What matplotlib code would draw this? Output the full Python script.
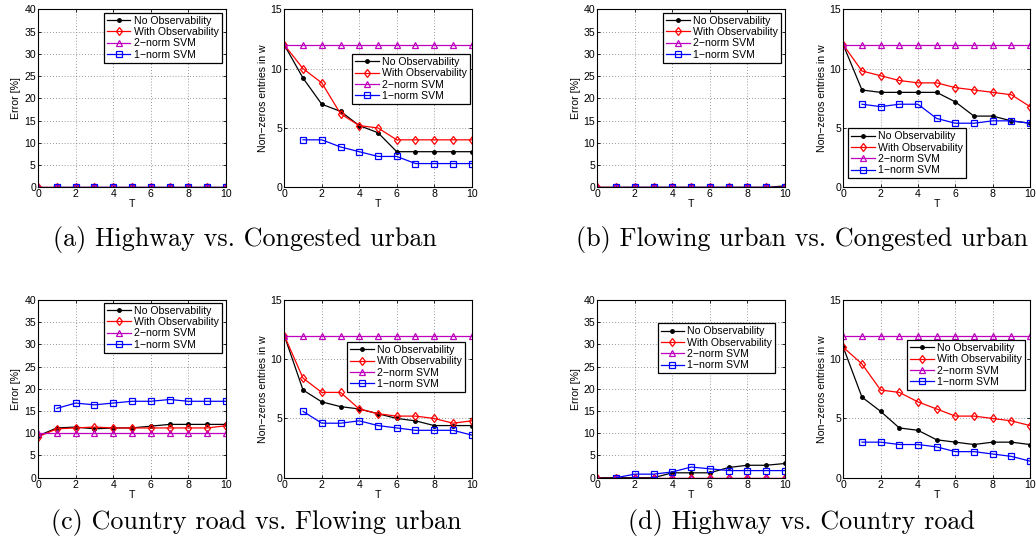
import matplotlib
matplotlib.use("Agg")
import matplotlib.pyplot as plt

# Horizon T
T = [0, 1, 2, 3, 4, 5, 6, 7, 8, 9, 10]
T_l1 = [1, 2, 3, 4, 5, 6, 7, 8, 9, 10]

series_labels = ["No Observability", "With Observability", "2\u2212norm SVM", "1\u2212norm SVM"]

# (a) Highway vs. Congested urban
a_err_noobs = [0, 0, 0, 0, 0, 0, 0, 0, 0, 0, 0]
a_err_obs = [0, 0, 0, 0, 0, 0, 0, 0, 0, 0, 0]
a_err_svm2 = [0, 0, 0, 0, 0, 0, 0, 0, 0, 0, 0]
a_err_svm1 = [0, 0, 0, 0, 0, 0, 0, 0, 0, 0]
a_nz_noobs = [12, 9.2, 7.0, 6.4, 5.2, 4.6, 3, 3, 3, 3, 3]
a_nz_obs = [12, 10.0, 8.8, 6.2, 5.2, 5.0, 4, 4, 4, 4, 4]
a_nz_svm2 = [12, 12, 12, 12, 12, 12, 12, 12, 12, 12, 12]
a_nz_svm1 = [4.0, 4.0, 3.4, 3.0, 2.6, 2.6, 2.0, 2.0, 2.0, 2.0]

# (b) Flowing urban vs. Congested urban
b_err_noobs = [0, 0, 0, 0, 0, 0, 0, 0, 0, 0, 0.3]
b_err_obs = [0, 0, 0, 0, 0, 0, 0, 0, 0, 0, 0]
b_err_svm2 = [0, 0, 0, 0, 0, 0, 0, 0, 0, 0, 0]
b_err_svm1 = [0, 0, 0, 0, 0, 0, 0, 0, 0, 0]
b_nz_noobs = [12, 8.2, 8.0, 8.0, 8.0, 8.0, 7.2, 6.0, 6.0, 5.6, 5.4]
b_nz_obs = [12, 9.8, 9.4, 9.0, 8.8, 8.8, 8.4, 8.2, 8.0, 7.8, 6.8]
b_nz_svm2 = [12, 12, 12, 12, 12, 12, 12, 12, 12, 12, 12]
b_nz_svm1 = [7.0, 6.8, 7.0, 7.0, 5.8, 5.4, 5.4, 5.6, 5.6, 5.4]

# (c) Country road vs. Flowing urban
c_err_noobs = [9.4, 11.2, 11.4, 11.0, 11.2, 11.2, 11.6, 12.0, 12.0, 12.0, 12.0]
c_err_obs = [9.2, 11.0, 11.2, 11.4, 11.2, 11.2, 11.2, 11.2, 11.2, 11.2, 11.7]
c_err_svm2 = [10, 10, 10, 10, 10, 10, 10, 10, 10, 10, 10]
c_err_svm1 = [15.6, 16.8, 16.4, 16.8, 17.2, 17.2, 17.6, 17.2, 17.2, 17.2]
c_nz_noobs = [12, 7.4, 6.4, 6.0, 5.8, 5.4, 5.0, 4.8, 4.4, 4.4, 4.4]
c_nz_obs = [12, 8.4, 7.2, 7.2, 5.8, 5.4, 5.2, 5.2, 5.0, 4.6, 4.8]
c_nz_svm2 = [12, 12, 12, 12, 12, 12, 12, 12, 12, 12, 12]
c_nz_svm1 = [5.6, 4.6, 4.6, 4.8, 4.4, 4.2, 4.0, 4.0, 4.0, 3.6]

# (d) Highway vs. Country road
d_err_noobs = [0, 0, 0, 0, 1.1, 1.1, 1.1, 2.3, 2.8, 2.8, 3.2]
d_err_obs = [0, 0, 0, 0, 0, 0, 0, 0, 0, 0, 0]
d_err_svm2 = [0, 0, 0, 0, 0, 0, 0, 0, 0, 0, 0]
d_err_svm1 = [0, 0.8, 0.8, 1.3, 2.4, 2.0, 1.6, 1.6, 1.6, 1.6]
d_nz_noobs = [11, 6.8, 5.6, 4.2, 4.0, 3.2, 3.0, 2.8, 3.0, 3.0, 2.8]
d_nz_obs = [11, 9.6, 7.4, 7.2, 6.4, 5.8, 5.2, 5.2, 5.0, 4.8, 4.4]
d_nz_svm2 = [12, 12, 12, 12, 12, 12, 12, 12, 12, 12, 12]
d_nz_svm1 = [3.0, 3.0, 2.8, 2.8, 2.6, 2.2, 2.2, 2.0, 1.8, 1.4]

captions = [
    "(a) Highway vs. Congested urban",
    "(b) Flowing urban vs. Congested urban",
    "(c) Country road vs. Flowing urban",
    "(d) Highway vs. Country road",
]

W, H = 1036, 544
fig = plt.figure(figsize=(W / 100, H / 100), dpi=100)
SANS = "Liberation Sans"
FS = 7.6


def px_axes(left, right, top, bottom):
    return fig.add_axes([left / W, 1 - bottom / H, (right - left) / W, (bottom - top) / H])


def draw(ax, ys, ylim, yticks, ylabel, legend_xy):
    noobs, obs, svm2, svm1 = ys
    lw = 0.9
    ax.plot(T, noobs, color="k", marker=".", markersize=5, lw=lw, label=series_labels[0])
    ax.plot(T, obs, color="r", marker="d", markersize=4.5, mfc="none", mew=0.9, lw=lw,
            label=series_labels[1])
    ax.plot(T, svm2, color="m", marker="^", markersize=4.5, mfc="none", mew=0.9, lw=lw,
            label=series_labels[2])
    ax.plot(T_l1, svm1, color="b", marker="s", markersize=4, mfc="none", mew=0.9, lw=lw,
            label=series_labels[3])
    ax.set_xlim(0, 10)
    ax.set_ylim(*ylim)
    ax.set_xticks([0, 2, 4, 6, 8, 10])
    ax.set_yticks(yticks)
    ax.grid(True, linestyle=(0, (1, 2.5)), color="#777777", lw=0.6)
    ax.set_axisbelow(True)
    ax.tick_params(direction="in", top=True, right=True, length=2.5, width=0.6,
                   labelsize=FS, pad=1.5)
    for lab in ax.get_xticklabels() + ax.get_yticklabels():
        lab.set_fontfamily(SANS)
    for s in ax.spines.values():
        s.set_linewidth(0.8)
    ax.set_xlabel("T", fontsize=FS, fontfamily=SANS, labelpad=0)
    ax.set_ylabel(ylabel, fontsize=FS, fontfamily=SANS, labelpad=2)
    leg = ax.legend(loc="upper left", bbox_to_anchor=(legend_xy[0] / W, 1 - legend_xy[1] / H),
                    bbox_transform=fig.transFigure, frameon=True, fancybox=False,
                    edgecolor="k", framealpha=1, borderpad=0.3, labelspacing=0.12,
                    handlelength=2.2, handletextpad=0.3, borderaxespad=0,
                    prop={"family": SANS, "size": FS})
    leg.get_frame().set_linewidth(0.9)


# column extents (pixels)
cols = [(38, 226), (284.3, 471.7), (597.3, 785), (843.3, 1030)]
rows = [(9.3, 187.3), (300, 477.7)]

err_ylim, err_ticks = (0, 40), [0, 5, 10, 15, 20, 25, 30, 35, 40]
nz_ylim, nz_ticks = (0, 15), [0, 5, 10, 15]

panels = [
    ((a_err_noobs, a_err_obs, a_err_svm2, a_err_svm1),
     (a_nz_noobs, a_nz_obs, a_nz_svm2, a_nz_svm1), (104, 12.7), (352.3, 54)),
    ((b_err_noobs, b_err_obs, b_err_svm2, b_err_svm1),
     (b_nz_noobs, b_nz_obs, b_nz_svm2, b_nz_svm1), (663.3, 12.7), (848.3, 128.3)),
    ((c_err_noobs, c_err_obs, c_err_svm2, c_err_svm1),
     (c_nz_noobs, c_nz_obs, c_nz_svm2, c_nz_svm1), (104.3, 302.7), (347.3, 342)),
    ((d_err_noobs, d_err_obs, d_err_svm2, d_err_svm1),
     (d_nz_noobs, d_nz_obs, d_nz_svm2, d_nz_svm1), (657.7, 323.3), (907.3, 340)),
]

caption_pos = [(245, 246), (802, 246), (256, 529), (801, 529)]

for i, (err, nz, leg_err, leg_nz) in enumerate(panels):
    r = i // 2
    c0 = (i % 2) * 2
    top, bottom = rows[r]
    ax1 = px_axes(cols[c0][0], cols[c0][1], top, bottom)
    draw(ax1, err, err_ylim, err_ticks, "Error [%]", leg_err)
    ax2 = px_axes(cols[c0 + 1][0], cols[c0 + 1][1], top, bottom)
    draw(ax2, nz, nz_ylim, nz_ticks, "Non\u2212zeros entries in w", leg_nz)
    cx, cy = caption_pos[i]
    fig.text(cx / W, 1 - cy / H, captions[i], ha="center", va="baseline",
             fontsize=18.8, fontfamily="cmr10")

fig.savefig("out.png", dpi=100)
